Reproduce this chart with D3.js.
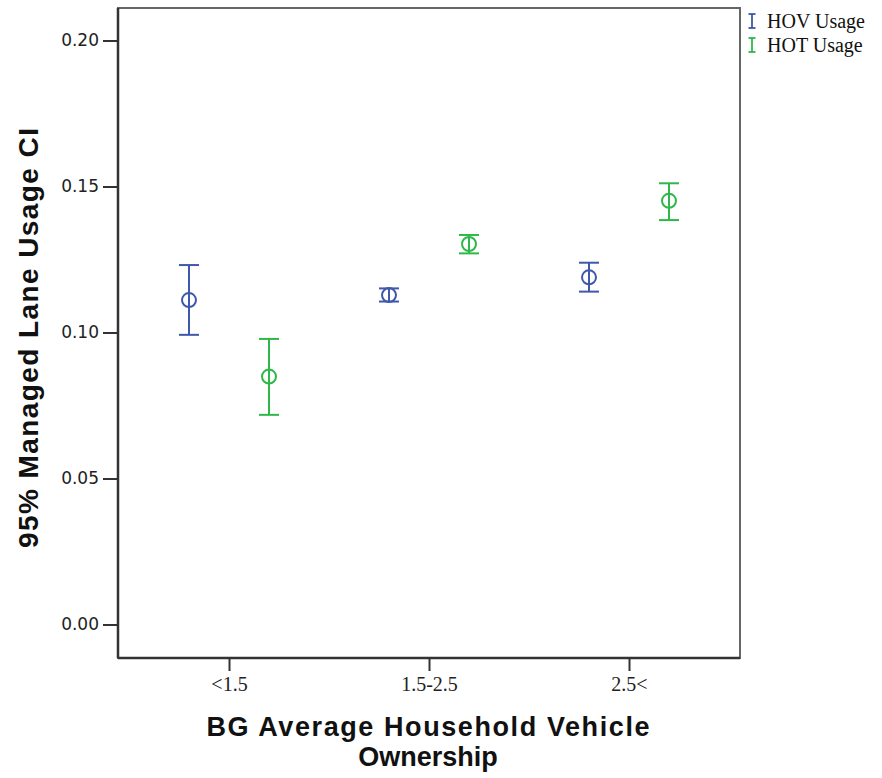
<!DOCTYPE html>
<html>
<head>
<meta charset="utf-8">
<script src="https://cdn.jsdelivr.net/npm/d3@7"></script>
<style>
  html, body { margin: 0; padding: 0; background: #fff; }
  svg { display: block; }
</style>
</head>
<body>
<div id="chart"></div>
<script>
// Vehicle-ownership groups on the x axis
const categories = ["<1.5", "1.5-2.5", "2.5<"];
const seriesNames = ["HOV Usage", "HOT Usage"];
const seriesColors = ["#3E58AC", "#2EB848"];

// Mean managed-lane usage with 95% confidence bounds, per group
const hovMean  = [0.1111, 0.1128, 0.1189];
const hovLower = [0.0992, 0.1106, 0.1140];
const hovUpper = [0.1231, 0.1151, 0.1239];

const hotMean  = [0.0849, 0.1303, 0.1451];
const hotLower = [0.0718, 0.1271, 0.1385];
const hotUpper = [0.0978, 0.1334, 0.1511];

const yTicks = [0.00, 0.05, 0.10, 0.15, 0.20];

const width = 882, height = 778;
const plot = { left: 118, right: 740, top: 8, bottom: 658 };

const svg = d3.select("#chart").append("svg")
  .attr("width", width).attr("height", height);

const x = d3.scalePoint().domain(categories)
  .range([plot.left, plot.right]).padding(0.555);
const offset = d3.scalePoint().domain(seriesNames).range([-40, 40]);
const y = d3.scaleLinear().domain([0, 0.2]).range([624.5, 40.5]);

// Plot frame
svg.append("rect")
  .attr("x", plot.left).attr("y", plot.top)
  .attr("width", plot.right - plot.left).attr("height", plot.bottom - plot.top)
  .attr("fill", "none").attr("stroke", "#666").attr("stroke-width", 2);

// Y axis
const yAxis = svg.append("g")
  .attr("transform", `translate(${plot.left},0)`)
  .call(d3.axisLeft(y).tickValues(yTicks).tickFormat(d3.format(".2f")).tickSize(15).tickPadding(4));
yAxis.select(".domain").attr("stroke", "#333").attr("stroke-width", 2.5)
  .attr("d", `M0,${plot.top}V${plot.bottom}`);
yAxis.selectAll(".tick line").attr("stroke", "#333").attr("stroke-width", 2);
yAxis.selectAll(".tick text")
  .attr("font-family", "DejaVu Sans, sans-serif").attr("font-size", 17)
  .attr("fill", "#222");

// X axis
const xAxis = svg.append("g")
  .attr("transform", `translate(0,${plot.bottom})`)
  .call(d3.axisBottom(x).tickSize(13).tickPadding(6));
xAxis.select(".domain").attr("stroke", "#333").attr("stroke-width", 2.5)
  .attr("d", `M${plot.left},0H${plot.right}`);
xAxis.selectAll(".tick line").attr("stroke", "#333").attr("stroke-width", 2);
xAxis.selectAll(".tick text")
  .attr("font-family", "Liberation Serif, serif").attr("font-size", 20)
  .attr("fill", "#222");

// Error bars with circle markers
const series = [
  { name: "HOV Usage", mean: hovMean, lo: hovLower, hi: hovUpper, color: seriesColors[0] },
  { name: "HOT Usage", mean: hotMean, lo: hotLower, hi: hotUpper, color: seriesColors[1] }
];
const capHalf = 10;
series.forEach(s => {
  const g = svg.append("g").attr("stroke", s.color).attr("stroke-width", 2).attr("fill", "none");
  categories.forEach((c, i) => {
    const cx = x(c) + offset(s.name);
    g.append("line").attr("x1", cx).attr("x2", cx).attr("y1", y(s.hi[i])).attr("y2", y(s.lo[i]));
    g.append("line").attr("x1", cx - capHalf).attr("x2", cx + capHalf).attr("y1", y(s.hi[i])).attr("y2", y(s.hi[i]));
    g.append("line").attr("x1", cx - capHalf).attr("x2", cx + capHalf).attr("y1", y(s.lo[i])).attr("y2", y(s.lo[i]));
    g.append("circle").attr("cx", cx).attr("cy", y(s.mean[i])).attr("r", 7);
  });
});

// Legend
const legend = svg.append("g").attr("transform", "translate(748,0)");
series.forEach((s, i) => {
  const ly = 21 + i * 24;
  const lg = legend.append("g").attr("stroke", s.color).attr("stroke-width", 1.8);
  lg.append("line").attr("x1", 4).attr("x2", 4).attr("y1", ly - 7).attr("y2", ly + 7);
  lg.append("line").attr("x1", 0.5).attr("x2", 7.5).attr("y1", ly - 7).attr("y2", ly - 7);
  lg.append("line").attr("x1", 0.5).attr("x2", 7.5).attr("y1", ly + 7).attr("y2", ly + 7);
  legend.append("text").attr("x", 19).attr("y", ly + 7)
    .attr("font-family", "Liberation Serif, serif").attr("font-size", 20)
    .attr("fill", "#111").text(s.name);
});

// Axis titles
svg.append("text")
  .attr("transform", `translate(38,338) rotate(-90)`)
  .attr("text-anchor", "middle")
  .attr("font-family", "Liberation Sans, Arial, sans-serif").attr("font-weight", "bold")
  .attr("font-size", 28).attr("fill", "#111")
  .attr("textLength", 420).attr("lengthAdjust", "spacing")
  .text("95% Managed Lane Usage CI");

const xTitleLines = ["BG Average Household Vehicle", "Ownership"];
svg.append("text")
  .attr("x", 428).attr("y", 736)
  .attr("text-anchor", "middle")
  .attr("font-family", "Liberation Sans, Arial, sans-serif").attr("font-weight", "bold")
  .attr("font-size", 27).attr("fill", "#111")
  .attr("textLength", 443).attr("lengthAdjust", "spacing")
  .text(xTitleLines[0]);
svg.append("text")
  .attr("x", 428).attr("y", 766)
  .attr("text-anchor", "middle")
  .attr("font-family", "Liberation Sans, Arial, sans-serif").attr("font-weight", "bold")
  .attr("font-size", 27).attr("fill", "#111")
  .text(xTitleLines[1]);
</script>
</body>
</html>
